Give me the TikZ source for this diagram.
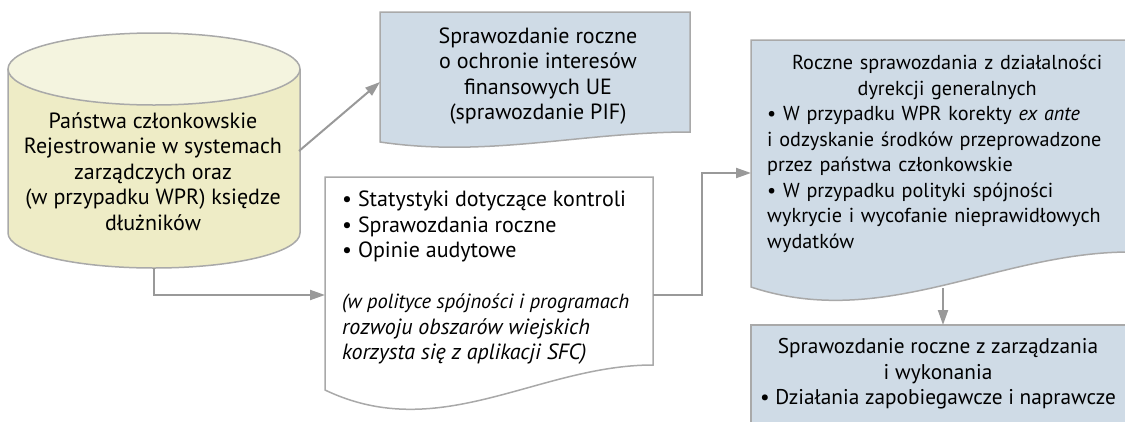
\documentclass[tikz,border=0pt]{standalone}
\usepackage{fontspec}
\setmainfont{PT Sans}
\usetikzlibrary{arrows.meta}
\definecolor{cylside}{HTML}{EEECC6}
\definecolor{cyltop}{HTML}{F4F4DF}
\definecolor{docblue}{HTML}{CFDBE6}
\definecolor{edge}{HTML}{A9A9A9}
\definecolor{arr}{HTML}{999999}
\begin{document}
\begin{tikzpicture}[x=1pt,y=-1pt,
  shapeline/.style={draw=edge,line width=1.5pt},
  conn/.style={draw=arr,line width=2pt,-{Triangle[length=15pt,width=10pt]}},
  txt/.style={font=\fontsize{22}{25.5}\selectfont, inner sep=0pt, text=black}]
\useasboundingbox (0,0) rectangle (1125,421);
% cylinder
\fill[cylside] (8,69) -- (8,233) arc[start angle=180,end angle=0,x radius=146,y radius=35] -- (300,69) -- cycle;
\draw[shapeline] (8,69) -- (8,233) arc[start angle=180,end angle=0,x radius=146,y radius=35] -- (300,69);
\filldraw[shapeline, fill=cyltop] (154,69) ellipse [x radius=146, y radius=36];
\node[txt, align=center] (cyl) at (153,171.5) {Państwa członkowskie\\Rejestrowanie w systemach\\zarządczych oraz\\(w przypadku WPR) księdze\\dłużników};
\coordinate (cylR) at (299,151);
\coordinate (cylB) at (154,268);
% PIF document
\filldraw[shapeline, fill=docblue] (380,12) -- (690,12) -- (690,132) .. controls (581,132) and (488,158) .. (380,142) -- cycle;
\node[txt, align=center] (pif) at (538,76) {Sprawozdanie roczne\\o ochronie interesów\\finansowych UE\\(sprawozdanie PIF)};
\coordinate (pifL) at (380,82);
% middle document
\filldraw[shapeline, fill=white] (325,177) -- (653,177) -- (653,365) .. controls (538,365) and (440,445) .. (325,390) -- cycle;
\node[txt, align=left, anchor=west] (mid) at (342,278) {• Statystyki dotyczące kontroli\\• Sprawozdania roczne\\• Opinie audytowe\\[25.5pt]\fontsize{20.5}{25.5}\selectfont\itshape (w polityce spójności i programach\\\itshape rozwoju obszarów wiejskich\\\itshape korzysta się z aplikacji SFC)};
\coordinate (midL) at (325,295);
\coordinate (midR) at (653,295);
\coordinate (jog) at (702,295);
% DG document
\filldraw[shapeline, fill=docblue] (751,40) -- (1130,40) -- (1130,252) .. controls (997,252) and (884,331) .. (751,287) -- cycle;
\node[txt, font=\fontsize{20.2}{25.5}\selectfont, text width=360pt, anchor=west] (dg) at (767,154) {\centering Roczne sprawozdania z działalności\\dyrekcji generalnych\par\raggedright • W przypadku WPR korekty \textit{ex ante}\\i odzyskanie środków przeprowadzone\\przez państwa członkowskie\\• W przypadku polityki spójności\\wykrycie i wycofanie nieprawidłowych\\wydatków\par};
\coordinate (dgL) at (751,173);
\coordinate (dgB) at (943,288);
% annual management report
\filldraw[shapeline, fill=docblue] (751,325) rectangle (1130,430);
\node[txt, font=\fontsize{21.3}{25.5}\selectfont, align=center] (amp) at (938,374) {Sprawozdanie roczne z zarządzania\\i wykonania\\• Działania zapobiegawcze i naprawcze};
\coordinate (ampT) at (943,325);
% connectors
\draw[conn] (cylR) -- (pifL);
\draw[conn] (cylB) |- (midL);
\draw[conn] (midR) -- (jog) |- (dgL);
\draw[conn] (dgB) -- (ampT);
\end{tikzpicture}
\end{document}
